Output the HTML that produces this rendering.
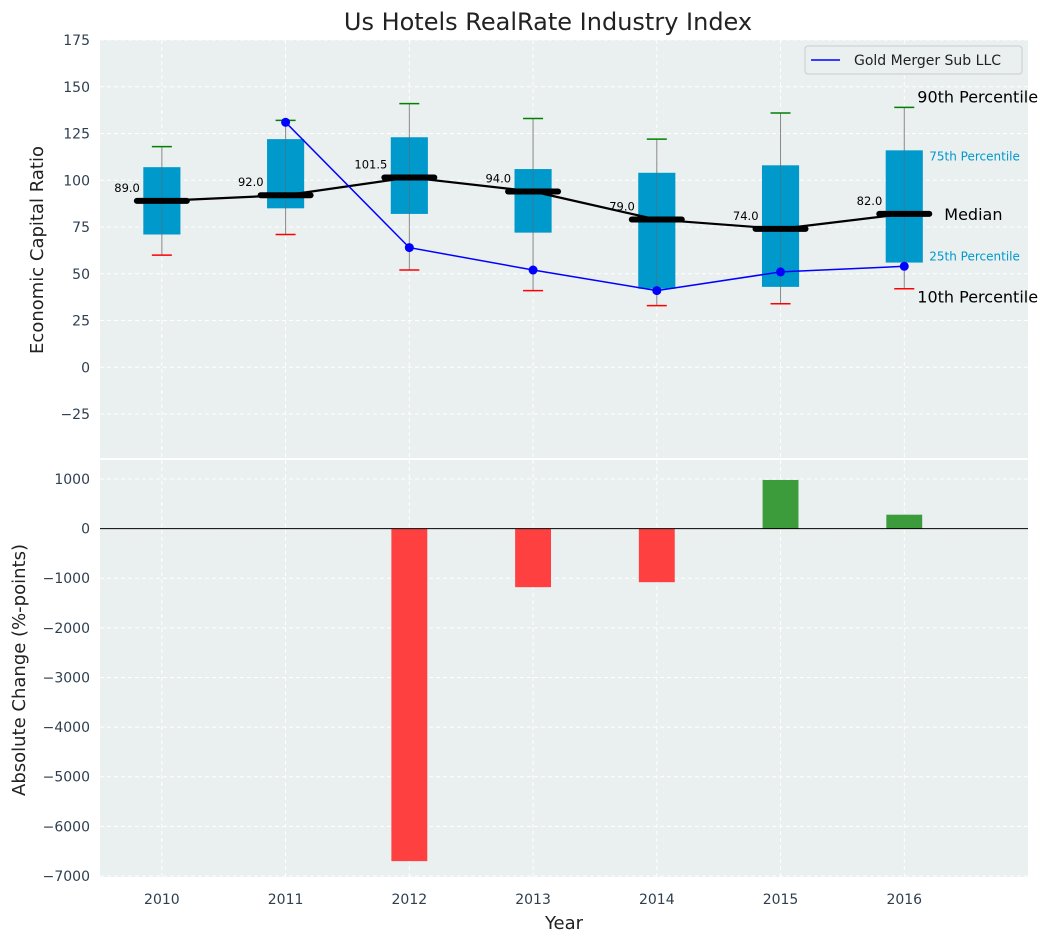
<!DOCTYPE html>
<html><head><meta charset="utf-8"><style>
body{margin:0;background:#fff;font-family:"Liberation Sans","DejaVu Sans",sans-serif}
svg text{font-family:"DejaVu Sans","Liberation Sans",sans-serif}
</style></head><body>
<svg id="c" width="1054" height="942"></svg>
<script>
const years=["2010","2011","2012","2013","2014","2015","2016"];
const p10=[60,71,52,41,33,34,42];
const q1=[71,85,82,72,42,43,56];
const med=[89,92,101.5,94,79,74,82];
const q3=[107,122,123,106,104,108,116];
const p90=[118,132,141,133,122,136,139];
const company=[null,131,64,52,41,51,54];
const change=[null,null,-6700,-1180,-1080,980,280];
const topTicks=[-25,0,25,50,75,100,125,150,175];
const botTicks=[-7000,-6000,-5000,-4000,-3000,-2000,-1000,0,1000];

const svg=document.getElementById('c');const NS='http://www.w3.org/2000/svg';
function el(t,a,p,txt){const e=document.createElementNS(NS,t);for(const k in a)e.setAttribute(k,a[k]);if(txt!==undefined)e.textContent=txt;(p||svg).appendChild(e);return e;}
const L=100,R=1028;
const X=i=>L+(i+0.5)/7.5*(R-L);
const T0=40,T1=458,B0=460,B1=877;
const Yt=v=>T0+(175-v)/(175+48.5)*(T1-T0);
const Yb=v=>B0+(1382-v)/(1382+7020)*(B1-B0);

const g1=el('g',{});
el('rect',{x:L,y:T0,width:R-L,height:T1-T0,fill:'#eaeff0'},g1);
const g2=el('g',{});
el('rect',{x:L,y:B0,width:R-L,height:B1-B0,fill:'#eaeff0'},g2);
years.forEach((y,i)=>{
 el('line',{x1:X(i),x2:X(i),y1:T0,y2:T1,stroke:'#fff','stroke-dasharray':'4,3','stroke-width':1},g1);
 el('line',{x1:X(i),x2:X(i),y1:B0,y2:B1,stroke:'#fff','stroke-dasharray':'4,3','stroke-width':1},g2);
 const t=el('text',{x:X(i),y:904,'text-anchor':'middle','font-size':14,fill:'#2e3f50'},svg,y);
 
});
topTicks.forEach(v=>{
 el('line',{x1:L,x2:R,y1:Yt(v),y2:Yt(v),stroke:'#fff','stroke-dasharray':'4,3'},g1);
 const t=el('text',{x:L-10,y:Yt(v)+5,'text-anchor':'end','font-size':14,fill:'#2e3f50'},svg,v<0?'−'+(-v):v);
 
});
botTicks.forEach(v=>{
 el('line',{x1:L,x2:R,y1:Yb(v),y2:Yb(v),stroke:'#fff','stroke-dasharray':'4,3'},g2);
 const t=el('text',{x:L-10,y:Yb(v)+5,'text-anchor':'end','font-size':14,fill:'#2e3f50'},svg,v<0?'−'+(-v):v);
 
});
const bw=(R-L)/7.5*0.3;
years.forEach((y,i)=>{
 const x=X(i);
 const w=el('line',{x1:x,x2:x,y1:Yt(p10[i]),y2:Yt(p90[i]),stroke:'#888','stroke-width':1},g1);
 
 const b=el('rect',{x:x-bw/2,y:Yt(q3[i]),width:bw,height:Yt(q1[i])-Yt(q3[i]),fill:'#0099cc'},g1);
 
 el('line',{x1:x,x2:x,y1:Yt(q1[i]),y2:Yt(q3[i]),stroke:'#666','stroke-width':0.8,opacity:0.6},g1);
 el('line',{x1:x-10,x2:x+10,y1:Yt(p90[i]),y2:Yt(p90[i]),stroke:'green','stroke-width':1.5},g1);
 el('line',{x1:x-10,x2:x+10,y1:Yt(p10[i]),y2:Yt(p10[i]),stroke:'red','stroke-width':1.5},g1);
});
el('polyline',{points:med.map((m,i)=>X(i)+','+Yt(m)).join(' '),fill:'none',stroke:'#000','stroke-width':2.2},g1);
years.forEach((y,i)=>{
 const m=el('line',{x1:X(i)-25,x2:X(i)+25,y1:Yt(med[i]),y2:Yt(med[i]),stroke:'#000','stroke-width':6,'stroke-linecap':'round'},g1);
 
 el('text',{x:X(i)-22,y:Yt(med[i])-9,'text-anchor':'end','font-size':11.5,fill:'#000'},g1,med[i].toFixed(1));
});
const pts=company.map((v,i)=>v==null?null:[X(i),Yt(v)]).filter(p=>p);
const cl=el('polyline',{points:pts.map(p=>p.join(',')).join(' '),fill:'none',stroke:'blue','stroke-width':1.5},g1);

pts.forEach(p=>el('circle',{cx:p[0],cy:p[1],r:4.5,fill:'blue'},g1));
const lx=X(6);
el('text',{x:lx+13,y:Yt(p90[6])-5,'font-size':16,fill:'#000'},g1,'90th Percentile');
el('text',{x:lx+25,y:Yt(q3[6])+10,'font-size':12,fill:'#0099cc'},g1,'75th Percentile');
el('text',{x:lx+40,y:Yt(med[6])+6,'font-size':16,fill:'#000'},g1,'Median');
el('text',{x:lx+25,y:Yt(q1[6])-2,'font-size':12,fill:'#0099cc'},g1,'25th Percentile');
el('text',{x:lx+13,y:Yt(p10[6])+14,'font-size':16,fill:'#000'},g1,'10th Percentile');
const lg=el('g',{});
el('rect',{x:805,y:46,width:217,height:28,rx:3,fill:'#eaeff0',stroke:'#ccc'},lg);
el('line',{x1:811,x2:840,y1:60,y2:60,stroke:'blue','stroke-width':1.5},lg);
el('text',{x:854,y:65,'font-size':14,fill:'#222'},lg,'Gold Merger Sub LLC');
const bbw=(R-L)/7.5*0.29;
change.forEach((v,i)=>{
 if(v==null)return;
 const y0=Yb(0),y1=Yb(v);
 const r=el('rect',{x:X(i)-bbw/2,y:Math.min(y0,y1),width:bbw,height:Math.abs(y1-y0),fill:v<0?'#ff4040':'#3c9c3c'},g2);
 
});
el('line',{x1:L,x2:R,y1:Yb(0),y2:Yb(0),stroke:'#000','stroke-width':1},g2);
const tt=el('text',{x:548,y:30,'text-anchor':'middle','font-size':24,fill:'#222'},svg,'Us Hotels RealRate Industry Index');

const ya=el('text',{x:0,y:0,transform:'translate(43,250) rotate(-90)','text-anchor':'middle','font-size':18,fill:'#222'},svg,'Economic Capital Ratio');

const yb=el('text',{x:0,y:0,transform:'translate(25,670) rotate(-90)','text-anchor':'middle','font-size':18,fill:'#222'},svg,'Absolute Change (%-points)');

const xa=el('text',{x:564,y:929,'text-anchor':'middle','font-size':18,fill:'#222'},svg,'Year');

</script>
</body></html>
